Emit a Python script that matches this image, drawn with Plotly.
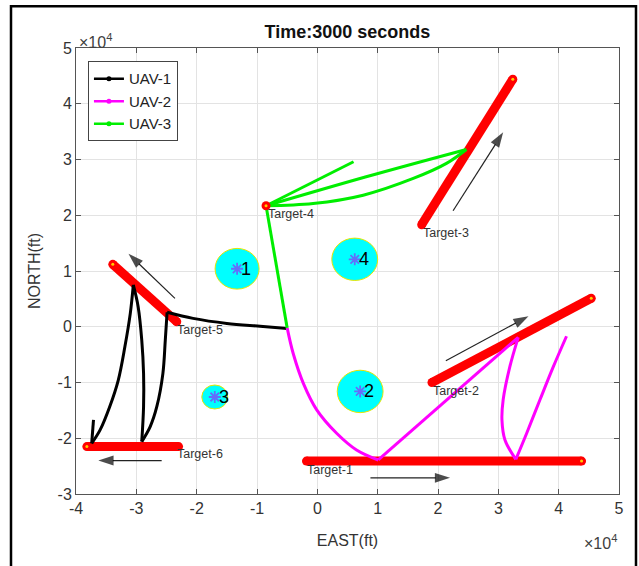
import plotly.graph_objects as go

# ---------------- data (units of 1e4 ft) ----------------
# UAV-1 path legs
uav1_leg1_x = [-0.50, -0.95, -1.50, -2.06, -2.49]
uav1_leg1_y = [-0.03, 0.01, 0.06, 0.15, 0.26]
uav1_leg2_x = [-2.49, -2.52, -2.56, -2.66, -2.77, -2.91]
uav1_leg2_y = [0.26, -0.24, -0.84, -1.43, -1.79, -2.06]
uav1_leg3_x = [-2.91, -2.88, -2.88, -2.91, -2.97, -3.05]
uav1_leg3_y = [-2.06, -1.43, -0.84, -0.24, 0.36, 0.75]
uav1_leg4_x = [-3.05, -3.10, -3.19, -3.30, -3.44, -3.60, -3.74]
uav1_leg4_y = [0.75, 0.24, -0.36, -0.96, -1.43, -1.85, -2.09]
uav1_leg5_x = [-3.74, -3.71]
uav1_leg5_y = [-2.09, -1.67]

# UAV-2 path legs
uav2_leg1_x = [-0.50, -0.40, -0.23, -0.01, 0.32, 0.65, 1.01]
uav2_leg1_y = [-0.02, -0.48, -1.02, -1.49, -1.91, -2.21, -2.39]
uav2_leg2_x = [1.01, 3.33]
uav2_leg2_y = [-2.39, -0.19]
uav2_leg3_x = [3.33, 3.19, 3.08, 3.06, 3.11, 3.29]
uav2_leg3_y = [-0.19, -0.72, -1.31, -1.67, -2.03, -2.38]
uav2_leg4_x = [3.29, 3.47, 3.69, 3.91, 4.13]
uav2_leg4_y = [-2.38, -1.91, -1.31, -0.72, -0.17]

# UAV-3 path legs
uav3_leg1_x = [-0.50, -0.85]
uav3_leg1_y = [-0.02, 2.17]
uav3_leg2_x = [-0.85, -0.07, 0.76, 1.59, 2.14, 2.47]
uav3_leg2_y = [2.17, 2.21, 2.36, 2.66, 2.93, 3.18]
uav3_leg3_x = [2.47, 0.81, -0.85]
uav3_leg3_y = [3.18, 2.69, 2.17]
uav3_leg4_x = [-0.85, 0.60]
uav3_leg4_y = [2.17, 2.96]

# Targets (moving-target tracks)
target_names = ["Target-1", "Target-2", "Target-3", "Target-4", "Target-5", "Target-6"]
t1_x = [-0.18, 4.38]; t1_y = [-2.41, -2.41]
t2_x = [1.90, 4.54];  t2_y = [-1.00, 0.51]
t3_x = [1.73, 3.24];  t3_y = [1.83, 4.44]
t4_x = [-0.85];       t4_y = [2.17]
t5_x = [-3.39, -2.33]; t5_y = [1.12, 0.09]
t6_x = [-3.82, -2.30]; t6_y = [-2.15, -2.15]
# current target positions (small yellow dots)
tnow_x = [4.38, 4.54, 3.24, -0.85, -3.39, -3.82]
tnow_y = [-2.41, 0.51, 4.44, 2.17, 1.12, -2.15]
# label anchors
tlab_x = [-0.20, 1.88, 1.71, -0.85, -2.36, -2.36]
tlab_y = [-2.57, -1.15, 1.69, 2.02, -0.06, -2.28]

# Threat zones
zone_ids = ["1", "2", "3", "4"]
zone_x = [-1.33, 0.71, -1.70, 0.62]
zone_y = [1.04, -1.16, -1.26, 1.21]
zone_r = [0.365, 0.38, 0.215, 0.38]

# Motion-direction arrows (tail -> head)
arrow_tail_x = [0.88, 2.13, 2.25, -2.36, -2.58]
arrow_tail_y = [-2.71, -0.61, 2.08, 0.51, -2.40]
arrow_head_x = [2.20, 3.50, 3.08, -3.13, -3.63]
arrow_head_y = [-2.71, 0.19, 3.49, 1.31, -2.40]

x_ticks = [-4, -3, -2, -1, 0, 1, 2, 3, 4, 5]
y_ticks = [-3, -2, -1, 0, 1, 2, 3, 4, 5]

# ---------------- figure ----------------
fig = go.Figure()
RED = "#ff0000"
BLACK_UAV = "#000000"
MAG = "#ff00ff"
GRN = "#00ee00"

for tx, ty in [(t1_x, t1_y), (t2_x, t2_y), (t3_x, t3_y), (t5_x, t5_y), (t6_x, t6_y)]:
    fig.add_trace(go.Scatter(x=tx, y=ty, mode="lines+markers",
                             line=dict(color=RED, width=9),
                             marker=dict(color=RED, size=9),
                             showlegend=False, hoverinfo="skip"))

legs = [
    (uav1_leg1_x, uav1_leg1_y, BLACK_UAV), (uav1_leg2_x, uav1_leg2_y, BLACK_UAV),
    (uav1_leg3_x, uav1_leg3_y, BLACK_UAV), (uav1_leg4_x, uav1_leg4_y, BLACK_UAV),
    (uav1_leg5_x, uav1_leg5_y, BLACK_UAV),
    (uav2_leg1_x, uav2_leg1_y, MAG), (uav2_leg2_x, uav2_leg2_y, MAG),
    (uav2_leg3_x, uav2_leg3_y, MAG), (uav2_leg4_x, uav2_leg4_y, MAG),
    (uav3_leg1_x, uav3_leg1_y, GRN), (uav3_leg2_x, uav3_leg2_y, GRN),
    (uav3_leg3_x, uav3_leg3_y, GRN), (uav3_leg4_x, uav3_leg4_y, GRN),
]
for lx, ly, c in legs:
    fig.add_trace(go.Scatter(x=lx, y=ly, mode="lines",
                             line=dict(color=c, width=3, shape="spline", smoothing=1.0),
                             showlegend=False, hoverinfo="skip"))

# target-4 point
fig.add_trace(go.Scatter(x=t4_x, y=t4_y, mode="markers",
                         marker=dict(color=RED, size=9),
                         showlegend=False, hoverinfo="skip"))
# current target position dots
fig.add_trace(go.Scatter(x=tnow_x, y=tnow_y, mode="markers",
                         marker=dict(color="#ffcc00", size=3),
                         showlegend=False, hoverinfo="skip"))

# zone centres
fig.add_trace(go.Scatter(x=zone_x, y=zone_y, mode="markers",
                         marker=dict(symbol="asterisk-open", size=10,
                                     line=dict(color="#0000dd", width=1.8)),
                         showlegend=False, hoverinfo="skip"))

# direction arrows: thin shaft with arrowhead marker oriented along the shaft
for tx, ty, hx, hy in zip(arrow_tail_x, arrow_tail_y, arrow_head_x, arrow_head_y):
    fig.add_trace(go.Scatter(x=[tx, hx], y=[ty, hy], mode="lines+markers",
                             line=dict(color="#222222", width=1.2),
                             marker=dict(symbol="arrow", size=[0, 16], color="#000000",
                                         angleref="previous", line=dict(width=0)),
                             showlegend=False, hoverinfo="skip"))

# legend entries
for name, c in [("UAV-1", "#000000"), ("UAV-2", MAG), ("UAV-3", GRN)]:
    fig.add_trace(go.Scatter(x=[None], y=[None], mode="lines+markers", name=name,
                             line=dict(color=c, width=2.5),
                             marker=dict(color=c, size=5)))

shapes = []
for cx, cy, r in zip(zone_x, zone_y, zone_r):
    shapes.append(dict(type="circle", xref="x", yref="y",
                       x0=cx - r, x1=cx + r, y0=cy - r, y1=cy + r,
                       fillcolor="#00ffff", line=dict(color="#e6e600", width=1),
                       layer="between"))
# outer frame
shapes.append(dict(type="rect", xref="paper", yref="paper",
                   x0=-0.1197, x1=1.0313, y0=-0.25, y1=1.0934,
                   line=dict(color="#000000", width=2.5), fillcolor="rgba(0,0,0,0)"))

annotations = []
for name, lx, ly in zip(target_names, tlab_x, tlab_y):
    annotations.append(dict(x=lx, y=ly, xref="x", yref="y", text=name, showarrow=False,
                            xanchor="left", yanchor="middle",
                            font=dict(size=12.5, color="#333333")))
for zid, cx, cy in zip(zone_ids, zone_x, zone_y):
    annotations.append(dict(x=cx, y=cy, xref="x", yref="y", text=zid, showarrow=False,
                            xanchor="left", yanchor="middle", xshift=2,
                            font=dict(size=18, color="#000000")))
annotations.append(dict(x=0.002, y=1.015, xref="paper", yref="paper",
                        text="\u00d710<sup>4</sup>", showarrow=False,
                        xanchor="left", yanchor="middle",
                        font=dict(size=16, color="#404040")))
annotations.append(dict(x=1.0, y=-0.108, xref="paper", yref="paper",
                        text="\u00d710<sup>4</sup>", showarrow=False,
                        xanchor="right", yanchor="middle",
                        font=dict(size=16, color="#404040")))

axis_common = dict(showline=True, linecolor="#555555", linewidth=1, mirror="ticks",
                   ticks="inside", ticklen=5, tickcolor="#555555",
                   showgrid=True, gridcolor="#e3e3e3", gridwidth=1, zeroline=False,
                   tickfont=dict(size=16, color="#333333"))

fig.update_layout(
    width=639, height=566,
    margin=dict(l=76, r=20, t=48, b=72),
    paper_bgcolor="white", plot_bgcolor="white",
    font=dict(family="Liberation Sans, Arial, sans-serif", color="#333333"),
    title=dict(text="<b>Time:3000 seconds</b>", x=0.5, xref="paper", xanchor="center",
               y=1 - 32 / 566, yref="container", yanchor="middle",
               font=dict(size=18, color="#111111")),
    xaxis=dict(range=[-4, 5], tickvals=x_ticks, ticktext=[str(v) for v in x_ticks],
               title=dict(text="EAST(ft)", standoff=18, font=dict(size=16, color="#333333")),
               **axis_common),
    yaxis=dict(range=[-3, 5], tickvals=y_ticks, ticktext=[str(v) for v in y_ticks],
               title=dict(text="NORTH(ft)", standoff=12, font=dict(size=16, color="#333333")),
               **axis_common),
    legend=dict(x=0.022, y=0.97, xanchor="left", yanchor="top",
                bgcolor="white", bordercolor="#444444", borderwidth=1,
                font=dict(size=15, color="#222222"), tracegroupgap=0,
                entrywidth=62, entrywidthmode="pixels"),
    shapes=shapes, annotations=annotations,
)

fig.write_html("out.html")
